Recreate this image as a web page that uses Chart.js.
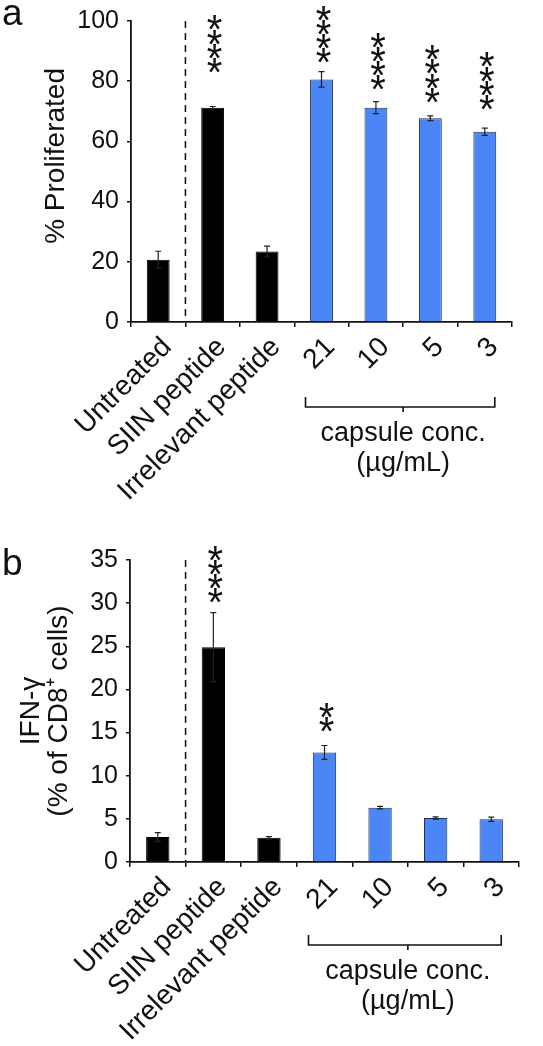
<!DOCTYPE html>
<html><head><meta charset="utf-8">
<script src="https://cdn.jsdelivr.net/npm/chart.js@4.4.1/dist/chart.umd.min.js"></script>
<style>
html,body{margin:0;padding:0;background:#fff;width:543px;height:1046px;overflow:hidden;}
#ca{position:absolute;left:0;top:0;}
#cb{position:absolute;left:0;top:515px;}
</style></head><body>
<canvas id="ca" width="543" height="515"></canvas>
<canvas id="cb" width="543" height="531"></canvas>
<script>
// ---------- data ----------
const categories = ["Untreated", "SIIN peptide", "Irrelevant peptide", "21", "10", "5", "3"];
const isCapsule = [false, false, false, true, true, true, true];

const proliferated = [20.7, 71.2, 23.4, 80.6, 71.2, 67.7, 63.2];
const proliferatedErr = [2.8, 0.4, 1.8, 2.6, 2.0, 0.8, 1.2];
const proliferatedStars = ["", "****", "", "****", "****", "****", "****"];
const proliferatedTicks = [0, 20, 40, 60, 80, 100];

const ifng = [2.9, 24.9, 2.8, 12.7, 6.3, 5.1, 4.95];
const ifngErr = [0.5, 4.0, 0.15, 0.8, 0.15, 0.12, 0.25];
const ifngStars = ["", "****", "", "**", "", "", ""];
const ifngTicks = [0, 5, 10, 15, 20, 25, 30, 35];

// annotation anchors (value at which each star stack starts)
const proliferatedStarBase = [null, 82.7, null, 86, 77, 72.8, 70.4];
const ifngStarBase = [null, 30.0, null, 15.05, null, null, null];

// ---------- styling ----------
const FONT = "'Liberation Sans', Arial, Helvetica, sans-serif";
const INK = '#111111';
const BLUE = '#4a86f6';
const BLUE_EDGE = '#1d2f5c';
const STAR_SIZE = 40;

function makeChart(id, o) {
  const el = document.getElementById(id);
  const H = el.height;
  const extras = {
    id: 'extras' + id,
    afterDatasetsDraw(chart) {
      const {ctx, chartArea: ca, scales: {x, y}} = chart;
      ctx.save();
      // dashed divider between Untreated and the rest
      const xd = (x.getPixelForValue(0) + x.getPixelForValue(1)) / 2;
      ctx.strokeStyle = INK; ctx.lineWidth = 1.5; ctx.setLineDash([7, 5]);
      ctx.beginPath(); ctx.moveTo(xd, ca.top); ctx.lineTo(xd, ca.bottom); ctx.stroke();
      ctx.setLineDash([]);
      // error bars
      ctx.lineWidth = 1.2; ctx.strokeStyle = '#222';
      o.values.forEach((v, i) => {
        const e = o.errors[i];
        const px = x.getPixelForValue(i);
        const yt = y.getPixelForValue(v + e), yb = y.getPixelForValue(v - e);
        ctx.beginPath();
        ctx.moveTo(px, yb); ctx.lineTo(px, yt);
        ctx.moveTo(px - 3, yt); ctx.lineTo(px + 3, yt);
        ctx.moveTo(px - 3, yb); ctx.lineTo(px + 3, yb);
        ctx.stroke();
      });
      // significance stars, stacked vertically
      ctx.fillStyle = INK; ctx.font = STAR_SIZE + 'px ' + FONT; ctx.textAlign = 'center'; ctx.textBaseline = 'alphabetic';
      const m = ctx.measureText('*');
      const mid = (m.actualBoundingBoxDescent - m.actualBoundingBoxAscent) / 2;
      const gh = m.actualBoundingBoxAscent + m.actualBoundingBoxDescent;
      o.stars.forEach((s, i) => {
        if (!s) return;
        const px = x.getPixelForValue(i) + 2;
        const base = y.getPixelForValue(o.starBase[i]);
        for (let k = 0; k < s.length; k++) {
          const cy = base - gh / 2 - k * 14.2;
          ctx.fillText('*', px, cy - mid);
        }
      });
      ctx.restore();
    },
    afterDraw(chart) {
      const {ctx, chartArea: ca, scales: {x}} = chart;
      ctx.save();
      ctx.strokeStyle = INK; ctx.lineWidth = 1.6;
      const x0 = x.getPixelForValue(3) - 16, x1 = x.getPixelForValue(6) + 10;
      const xm = (x.getPixelForValue(3) + x.getPixelForValue(6)) / 2;
      const yb = ca.bottom + o.bracketOffset;
      ctx.beginPath();
      ctx.moveTo(x0, yb - 10); ctx.lineTo(x0, yb); ctx.lineTo(x1, yb); ctx.lineTo(x1, yb - 10);
      ctx.moveTo(xm, yb); ctx.lineTo(xm, yb + 5);
      ctx.stroke();
      ctx.fillStyle = INK; ctx.textAlign = 'center'; ctx.textBaseline = 'middle';
      ctx.font = '27px ' + FONT;
      ctx.fillText('capsule conc.', xm, yb + 27);
      ctx.fillText('(\u00b5g/mL)', xm, yb + 57);
      // panel letter
      ctx.textAlign = 'left'; ctx.textBaseline = 'alphabetic';
      ctx.font = '37px ' + FONT;
      ctx.fillText(o.letter, 2, o.letterY);
      ctx.restore();
    }
  };

  return new Chart(el, {
    type: 'bar',
    data: {
      labels: categories,
      datasets: [{
        data: o.values,
        backgroundColor: isCapsule.map(c => c ? BLUE : '#000'),
        borderColor: isCapsule.map(c => c ? BLUE_EDGE : '#000'),
        borderWidth: 1,
        categoryPercentage: 1,
        barPercentage: 0.42
      }]
    },
    options: {
      responsive: false,
      animation: false,
      events: [],
      layout: {padding: {top: o.top, right: o.right, left: 0, bottom: 0}},
      plugins: {legend: {display: false}, tooltip: {enabled: false}},
      scales: {
        x: {
          grid: {display: true, drawOnChartArea: false, drawTicks: true, tickLength: 5, color: INK, lineWidth: 1.5, offset: true},
          border: {display: true, color: INK, width: 1.8},
          ticks: {color: INK, font: {family: FONT, size: 28}, minRotation: 45, maxRotation: 45, padding: 4, labelOffset: 9, autoSkip: false},
          afterFit(s) { s.height = H - o.bottom; s.paddingLeft = 0; s.paddingRight = 0; }
        },
        y: {
          min: 0, max: o.max,
          afterBuildTicks(s) { s.ticks = o.ticks.map(v => ({value: v})); },
          grid: {display: true, drawOnChartArea: false, drawTicks: true, tickLength: 4, color: INK, lineWidth: 1.5},
          border: {display: true, color: INK, width: 1.8},
          ticks: {color: INK, font: {family: FONT, size: 25}, padding: 8},
          title: {display: true, text: o.title, color: INK, font: {family: FONT, size: 28, lineHeight: 1.0}, padding: {top: o.titlePad, bottom: 0}},
          afterFit(s) { s.width = o.left; s.paddingTop = 0; s.paddingBottom = 0; }
        }
      }
    },
    plugins: [extras]
  });
}

makeChart('ca', {
  values: proliferated, errors: proliferatedErr, stars: proliferatedStars, starBase: proliferatedStarBase,
  ticks: proliferatedTicks, max: 100, title: '\u00a0\u00a0\u00a0\u00a0% Proliferated', titlePad: 42,
  top: 21, right: 31, left: 131, bottom: 322, bracketOffset: 85, letter: 'a', letterY: 25
});
makeChart('cb', {
  values: ifng, errors: ifngErr, stars: ifngStars, starBase: ifngStarBase,
  ticks: ifngTicks, max: 35, title: ['IFN-\u03b3', '(% of CD8\u207a cells)'], titlePad: 17,
  top: 45, right: 24, left: 130, bottom: 347, bracketOffset: 83, letter: 'b', letterY: 60
});
</script>
</body></html>
